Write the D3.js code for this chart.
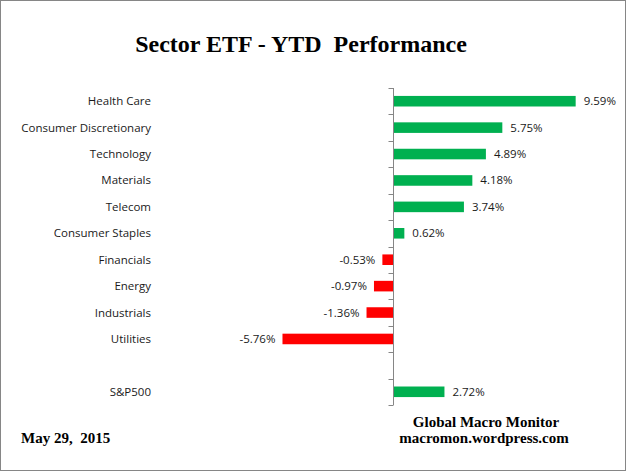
<!DOCTYPE html>
<html>
<head>
<meta charset="utf-8">
<script src="https://cdn.jsdelivr.net/npm/d3@7"></script>
<style>
  body { margin: 0; background: #fff; }
  svg { display: block; }
</style>
</head>
<body>
<div id="chart"></div>
<script>
var sectors = ["Health Care","Consumer Discretionary","Technology","Materials","Telecom","Consumer Staples","Financials","Energy","Industrials","Utilities","","S&P500"];
var ytd = [9.59, 5.75, 4.89, 4.18, 3.74, 0.62, -0.53, -0.97, -1.36, -5.76, null, 2.72];
var xDomain = [-6, 10];

var width = 626, height = 471;
var svg = d3.select("#chart").append("svg")
    .attr("width", width)
    .attr("height", height);

// outer frame
svg.append("rect")
    .attr("x", 0.5).attr("y", 0.5)
    .attr("width", width - 1).attr("height", height - 1)
    .attr("fill", "#fff")
    .attr("stroke", "#868686");

var x = d3.scaleLinear().domain(xDomain).range([277.9, 583.5]);
var rows = d3.scaleBand().domain(d3.range(sectors.length)).range([88, 405]).padding(0);
var bars = d3.scaleBand().domain(d3.range(sectors.length)).range([88, 405])
    .paddingInner(0.6).paddingOuter(0.3);

var data = sectors.map(function(s, i){ return {name: s, value: ytd[i], i: i}; });
var x0 = Math.round(x(0)) + 0.5;

// bars
svg.selectAll("rect.bar")
    .data(data.filter(function(d){ return d.value !== null; }))
    .enter()
    .append("rect")
    .attr("class", "bar")
    .attr("x", function(d){ return d.value >= 0 ? x0 + 0.5 : x(d.value); })
    .attr("width", function(d){ return d.value >= 0 ? x(d.value) - x0 - 0.5 : x0 - 0.5 - x(d.value); })
    .attr("y", function(d){ return bars(d.i); })
    .attr("height", bars.bandwidth())
    .attr("fill", function(d){ return d.value >= 0 ? "#00b050" : "#ff0000"; });

// value labels
svg.selectAll("text.val")
    .data(data.filter(function(d){ return d.value !== null; }))
    .enter()
    .append("text")
    .attr("class", "val")
    .attr("x", function(d){ return d.value >= 0 ? x(d.value) + 8 : x(d.value) - 7; })
    .attr("y", function(d){ return rows(d.i) + rows.bandwidth() / 2; })
    .attr("dy", "0.35em")
    .attr("text-anchor", function(d){ return d.value >= 0 ? "start" : "end"; })
    .attr("font-family", "Open Sans, sans-serif")
    .attr("font-size", "11.5px")
    .attr("fill", "#1a1a1a")
    .text(function(d){ return d.value.toFixed(2) + "%"; });

// category labels
svg.selectAll("text.cat")
    .data(data)
    .enter()
    .append("text")
    .attr("class", "cat")
    .attr("x", 151)
    .attr("y", function(d){ return rows(d.i) + rows.bandwidth() / 2; })
    .attr("dy", "0.35em")
    .attr("text-anchor", "end")
    .attr("font-family", "Open Sans, sans-serif")
    .attr("font-size", "11.5px")
    .attr("fill", "#1a1a1a")
    .text(function(d){ return d.name; });

// vertical axis at zero with ticks on row boundaries
var axis = svg.append("g").attr("stroke", "#868686").attr("stroke-width", 1);
axis.append("line")
    .attr("x1", x0).attr("x2", x0)
    .attr("y1", rows.range()[0]).attr("y2", rows.range()[1]);
var tickYs = d3.range(sectors.length + 1).map(function(k){ return rows.range()[0] + k * rows.step(); });
axis.selectAll("line.tick")
    .data(tickYs)
    .enter()
    .append("line")
    .attr("class", "tick")
    .attr("x1", x0 - 5).attr("x2", x0)
    .attr("y1", function(d){ return Math.round(d) + 0.5; })
    .attr("y2", function(d){ return Math.round(d) + 0.5; });

// title and footer
svg.append("text")
    .attr("x", 301).attr("y", 52)
    .attr("text-anchor", "middle")
    .attr("font-family", "Liberation Serif, Times New Roman, serif")
    .attr("font-weight", "bold")
    .attr("font-size", "24px")
    .style("white-space", "pre")
    .text("Sector ETF - YTD  Performance");

svg.append("text")
    .attr("x", 21).attr("y", 443)
    .attr("font-family", "Liberation Serif, Times New Roman, serif")
    .attr("font-weight", "bold")
    .attr("font-size", "15px")
    .style("white-space", "pre")
    .text("May 29,  2015");

svg.append("text")
    .attr("x", 486).attr("y", 427)
    .attr("text-anchor", "middle")
    .attr("font-family", "Liberation Serif, Times New Roman, serif")
    .attr("font-weight", "bold")
    .attr("font-size", "15px")
    .text("Global Macro Monitor");

svg.append("text")
    .attr("x", 484).attr("y", 443)
    .attr("text-anchor", "middle")
    .attr("font-family", "Liberation Serif, Times New Roman, serif")
    .attr("font-weight", "bold")
    .attr("font-size", "15px")
    .text("macromon.wordpress.com");
</script>
</body>
</html>
